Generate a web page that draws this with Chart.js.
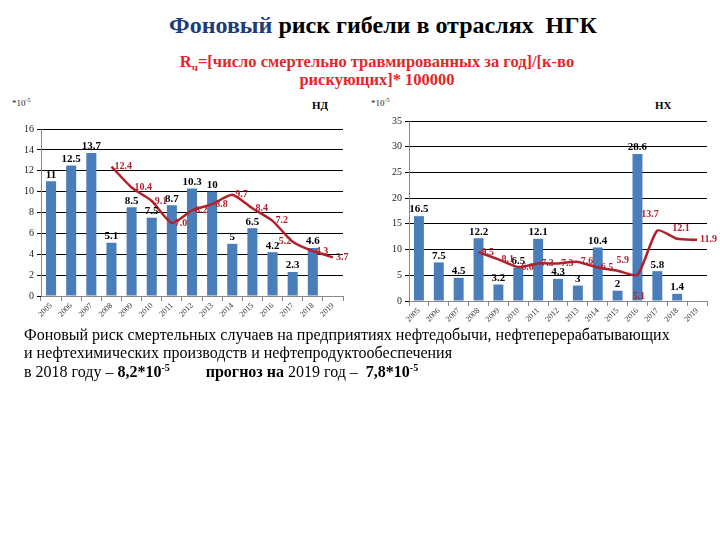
<!DOCTYPE html>
<html>
<head>
<meta charset="utf-8">
<script src="https://cdn.jsdelivr.net/npm/chart.js@4/dist/chart.umd.min.js"></script>
<style>
body{margin:0;width:720px;height:540px;background:#fff;position:relative;overflow:hidden;font-family:"Liberation Serif",serif}
.t{position:absolute;white-space:nowrap}
#titulo{left:383px;top:12px;transform:translateX(-50%);font-size:24px;font-weight:bold;color:#000}
#titulo span{color:#1f3c78}
.formula{left:377px;transform:translateX(-50%);font-size:16.5px;font-weight:bold;color:#e3262b}
.formula sub{font-size:11px}
.mult{font-size:9px;color:#222}
.mult sup{font-size:6px}
.nombre{font-size:11px;font-weight:bold}
.abajo{left:24px;font-size:16px;color:#000}
.abajo sup{font-size:10px}
canvas{position:absolute}
#nd{left:0;top:120px}
#nx{left:362px;top:112px}
</style>
</head>
<body>
<div class="t" id="titulo"><span>Фоновый</span> риск гибели в отраслях&nbsp; НГК</div>
<div class="t formula" style="top:52px">R<sub>ч</sub>=[число смертельно травмированных за год]/[к-во</div>
<div class="t formula" style="top:70px">рискующих]* 100000</div>

<div class="t mult" style="left:12px;top:97px">*10<sup>-5</sup></div>
<div class="t mult" style="left:371px;top:97px">*10<sup>-5</sup></div>
<div class="t nombre" style="left:312px;top:99px">НД</div>
<div class="t nombre" style="left:655px;top:99px">НХ</div>

<canvas id="nd" width="355" height="210"></canvas>
<canvas id="nx" width="358" height="218"></canvas>

<div class="t abajo" style="top:326px">Фоновый риск смертельных случаев на предприятиях нефтедобычи, нефтеперерабатывающих</div>
<div class="t abajo" style="top:344px">и нефтехимических производств и нефтепродуктообеспечения</div>
<div class="t abajo" style="top:362px">в 2018 году – <b>8,2*10<sup>-5</sup></b>&nbsp;&nbsp;&nbsp;&nbsp;&nbsp;&nbsp;&nbsp;&nbsp; <b>прогноз на</b> 2019 год –&nbsp; <b>7,8*10<sup>-5</sup></b></div>

<script>
const anios = ['2005','2006','2007','2008','2009','2010','2011','2012','2013','2014','2015','2016','2017','2018','2019']

// НД - нефтедобыча
const barrasND = [11, 12.5, 13.7, 5.1, 8.5, 7.5, 8.7, 10.3, 10, 5, 6.5, 4.2, 2.3, 4.6, null]
const lineaND = [null, null, null, 12.4, 10.4, 9.1, 7.0, 8.2, 8.8, 9.7, 8.4, 7.2, 5.2, 4.3, 3.7]
const maxND = 16
const pasoND = 2

// НХ - нефтехимия
const barrasNX = [16.5, 7.5, 4.5, 12.2, 3.2, 6.5, 12.1, 4.3, 3, 10.4, 2, 28.6, 5.8, 1.4, null]
const lineaNX = [null, null, null, 9.5, 8.1, 6.6, 7.3, 7.3, 7.6, 6.5, 5.9, 5.1, 13.7, 12.1, 11.9]
const maxNX = 35
const pasoNX = 5

const etiquetas = {
    id: 'etiquetas',
    afterDatasetsDraw(chart, args, opts) {
        const ctx = chart.ctx
        ctx.save()
        // valores de barras
        const mb = chart.getDatasetMeta(1)
        ctx.font = 'bold 11px "Liberation Serif"'
        ctx.fillStyle = '#000'
        ctx.textAlign = 'center'
        ctx.textBaseline = 'bottom'
        mb.data.forEach((b, i) => {
            const v = chart.data.datasets[1].data[i]
            if (v == null) return
            ctx.fillText(String(v), b.x, b.y - 1)
        })
        // valores de la linea
        const ml = chart.getDatasetMeta(0)
        ctx.font = 'bold 10px "Liberation Serif"'
        ctx.fillStyle = '#b0222e'
        ctx.textAlign = 'left'
        ctx.textBaseline = 'middle'
        ml.data.forEach((p, i) => {
            const v = chart.data.datasets[0].data[i]
            if (v == null) return
            const n = (opts.mover && opts.mover[i]) || [0, 0]
            ctx.fillText(v.toFixed(1), p.x + 3 + n[0], p.y + n[1])
        })
        ctx.restore()
    }
}

function crearGrafica(id, barras, linea, maxY, paso, ajuste) {
    return new Chart(document.getElementById(id), {
        type: 'bar',
        data: {
            labels: anios,
            datasets: [
                {
                    type: 'line',
                    data: linea,
                    borderColor: '#b3202a',
                    borderWidth: 2.5,
                    pointRadius: 0,
                    tension: 0.2,
                    fill: false
                },
                {
                    data: barras,
                    backgroundColor: '#4a7ebb',
                    barPercentage: 0.5,
                    categoryPercentage: 1
                }
            ]
        },
        options: {
            responsive: false,
            animation: false,
            layout: { padding: { top: ajuste.arriba, right: ajuste.derecha, left: 0, bottom: 0 } },
            plugins: {
                legend: { display: false },
                tooltip: { enabled: false },
                etiquetas: { mover: ajuste.mover }
            },
            scales: {
                x: {
                    afterFit: s => { s.height = ajuste.altoX },
                    grid: { drawOnChartArea: false, color: '#888', tickLength: 5 },
                    border: { color: '#888' },
                    ticks: {
                        autoSkip: false, minRotation: 45, maxRotation: 45,
                        color: '#333', font: { family: 'Liberation Serif', size: 8 }, padding: 0
                    }
                },
                y: {
                    min: 0, max: maxY,
                    afterFit: s => { s.width = ajuste.anchoY },
                    grid: { color: '#000', lineWidth: 1, tickLength: 4 },
                    border: { color: '#888' },
                    ticks: {
                        stepSize: paso, color: '#222', padding: 3,
                        font: { family: 'Liberation Serif', size: 10 }
                    }
                }
            }
        },
        plugins: [etiquetas]
    })
}

const graficaND = crearGrafica('nd', barrasND, lineaND, maxND, pasoND, {
    arriba: 7, derecha: 12, altoX: 34, anchoY: 41,
    mover: { 12: [-17, 0] }
})

const graficaNX = crearGrafica('nx', barrasNX, lineaNX, maxNX, pasoNX, {
    arriba: 7, derecha: 13, altoX: 29, anchoY: 47,
    mover: { 10: [-4, -10], 11: [-8, 22], 12: [-19, -16], 13: [-8, -10] }
})
</script>
</body>
</html>
